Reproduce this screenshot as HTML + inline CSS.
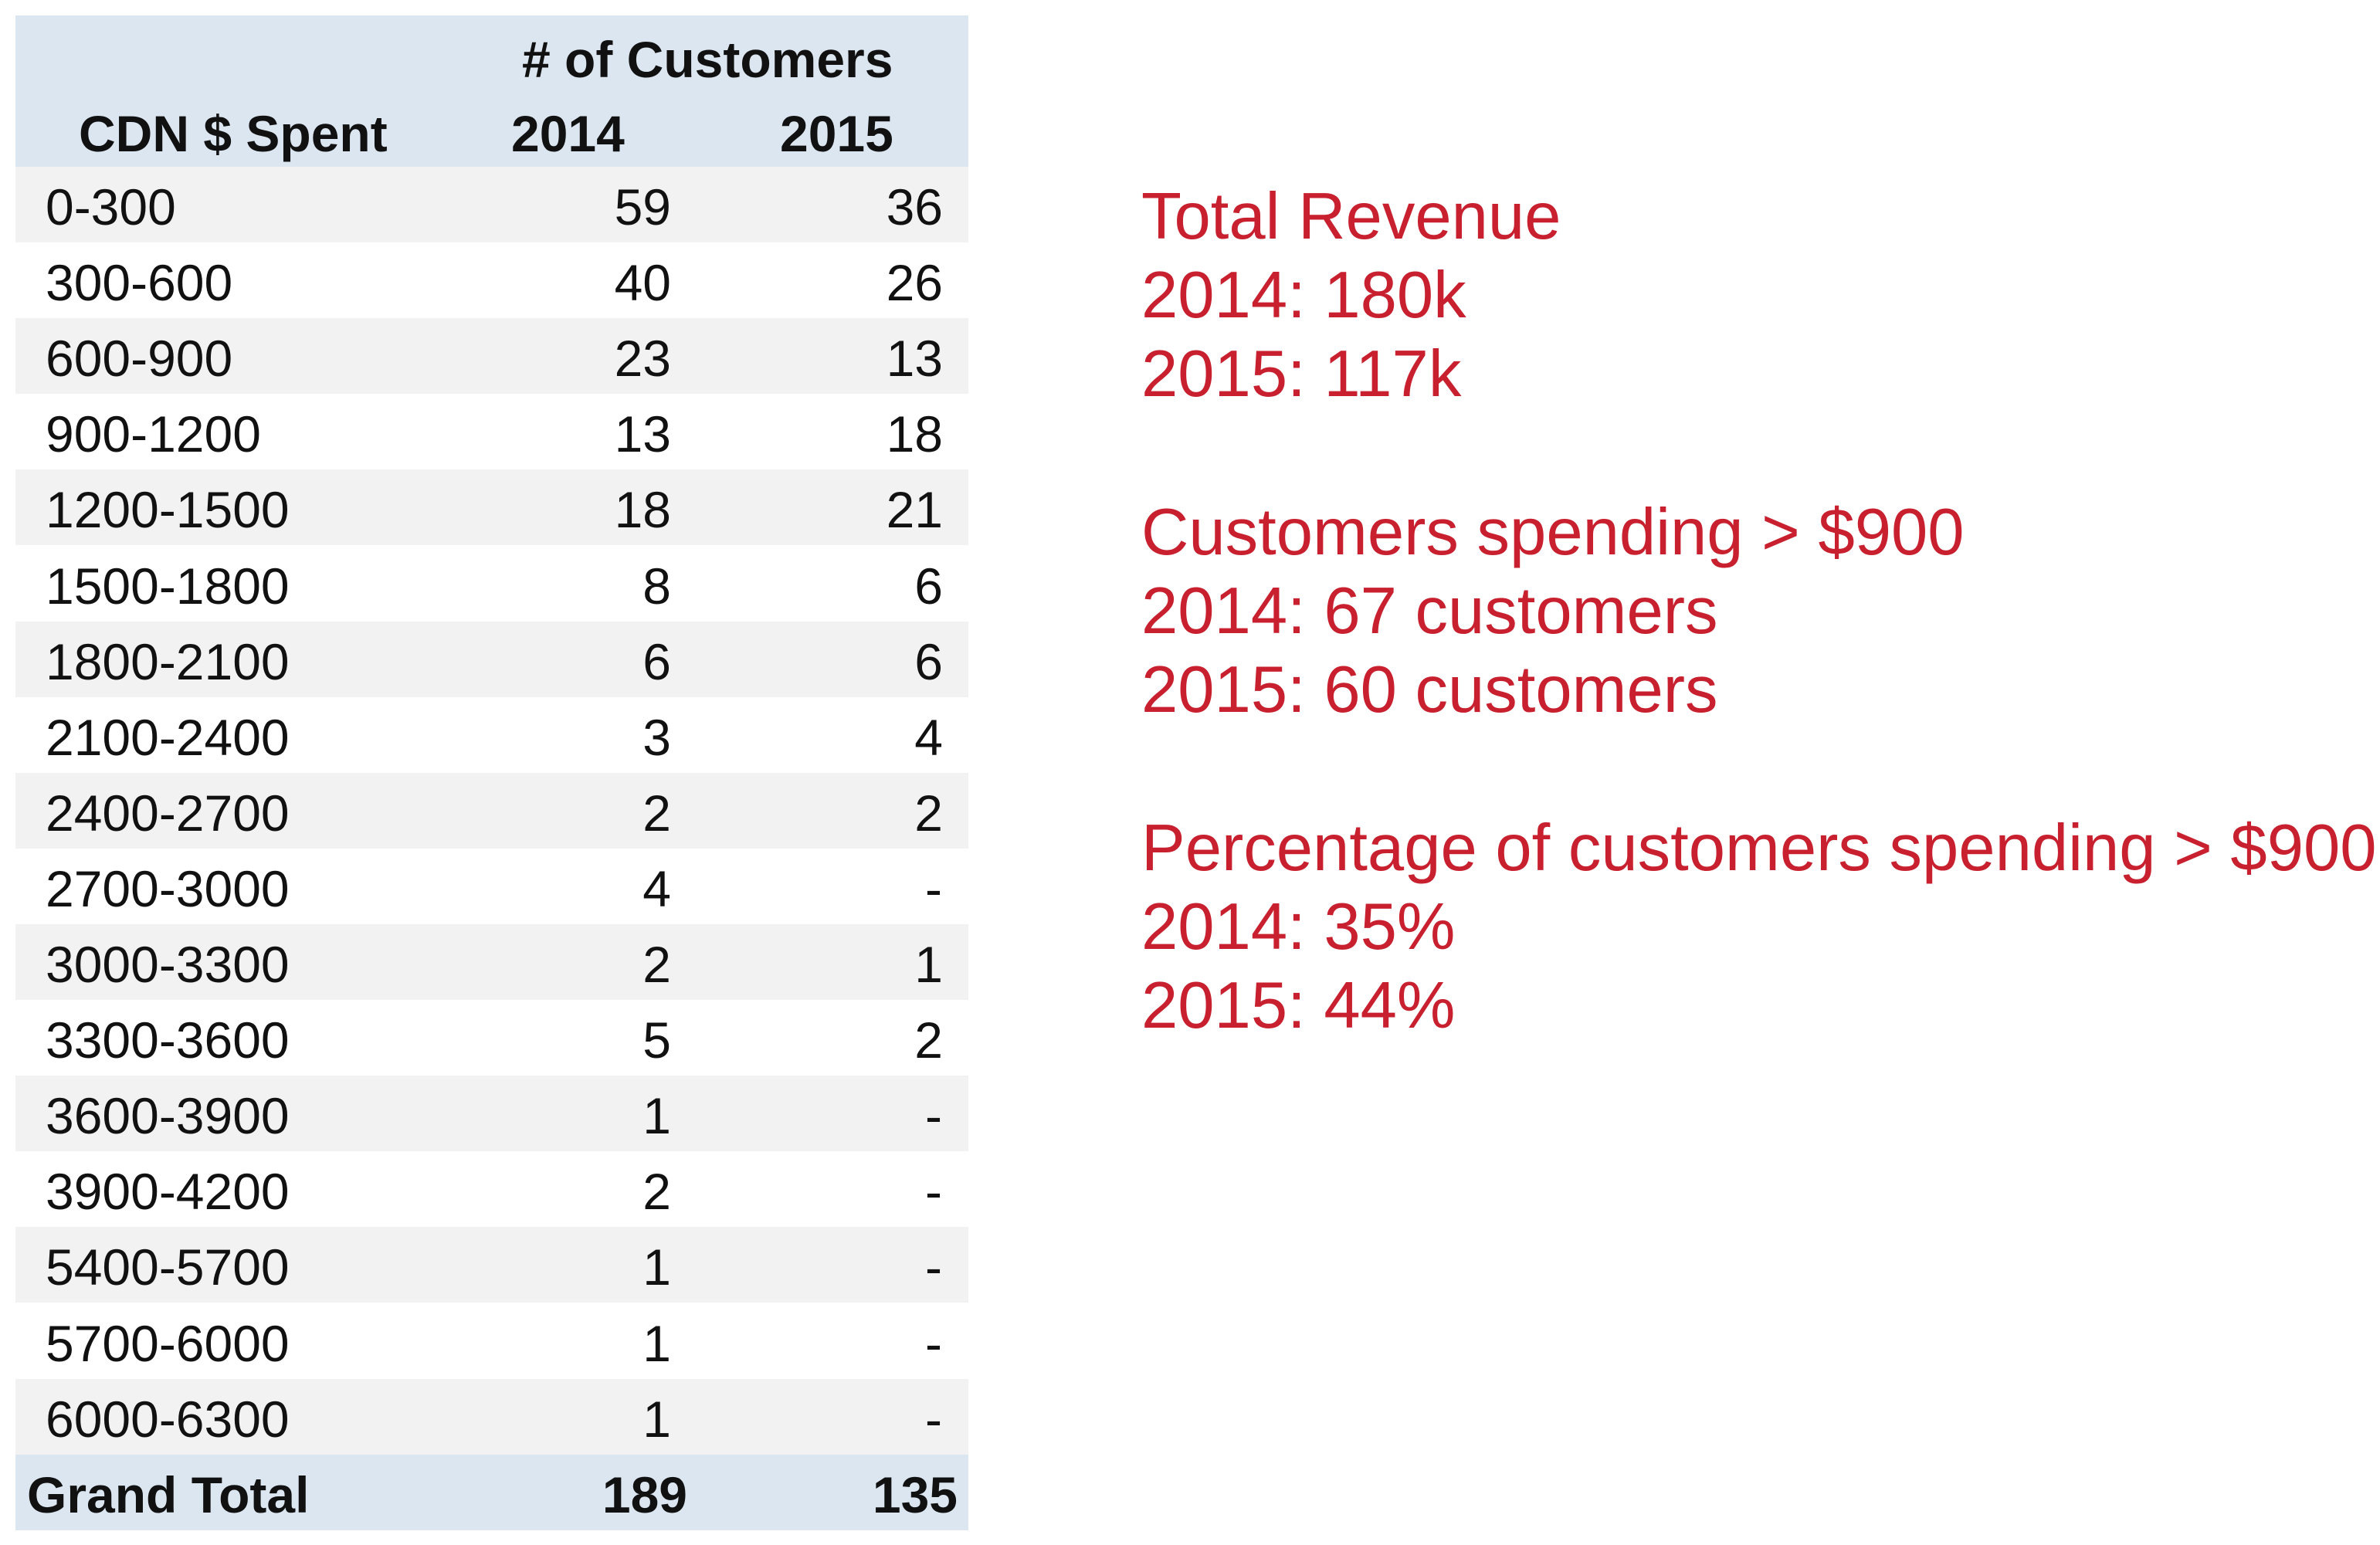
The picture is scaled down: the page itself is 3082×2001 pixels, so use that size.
<!DOCTYPE html>
<html><head><meta charset="utf-8">
<style>
html,body{margin:0;padding:0;background:#fff;}
body{width:3082px;height:2001px;position:relative;overflow:hidden;font-family:"Liberation Sans",sans-serif;}
.t{position:absolute;left:20px;width:1234px;}
.row{position:absolute;left:0;width:1234px;height:98px;}
.cell{position:absolute;top:3px;height:98px;line-height:98px;font-size:66px;color:#111;white-space:nowrap;}
.hdr{background:#dce6f1;}
.b{font-weight:bold;}
#notes{position:absolute;left:1478px;top:230px;font-size:85px;line-height:102.2px;color:#c8202e;white-space:pre;}
</style></head>
<body>
<div class="t" id="table" style="top:20px;height:1961px;">
  <div class="row hdr" style="top:0;height:196px;">
    <div class="cell b" style="left:656px;top:8px;">#&nbsp;of Customers</div>
    <div class="cell b" style="left:82px;top:104px;">CDN $ Spent</div>
    <div class="cell b" style="left:642px;top:104px;">2014</div>
    <div class="cell b" style="left:990px;top:104px;">2015</div>
  </div>
</div>
<div id="notes">Total Revenue
2014: 180k
2015: 117k

Customers spending &gt; $900
2014: 67 customers
2015: 60 customers

Percentage of customers spending &gt; $900
2014: 35%
2015: 44%</div>
<script>
const ranges = ["0-300","300-600","600-900","900-1200","1200-1500","1500-1800","1800-2100","2100-2400","2400-2700","2700-3000","3000-3300","3300-3600","3600-3900","3900-4200","5400-5700","5700-6000","6000-6300"];
const counts2014 = [59,40,23,13,18,8,6,3,2,4,2,5,1,2,1,1,1];
const counts2015 = [36,26,13,18,21,6,6,4,2,0,1,2,0,0,0,0,0];
const totalLabel = "Grand Total";

const table = document.getElementById('table');
const rowH = 98.1, top0 = 196;
function fmt(v){ return v === 0 ? "-" : String(v); }
function mk(parent, cls, style, text){
  const d = document.createElement('div');
  d.className = cls; d.setAttribute('style', style); d.textContent = text;
  parent.appendChild(d); return d;
}
ranges.forEach((r,i)=>{
  const row = document.createElement('div');
  row.className = 'row';
  row.setAttribute('style', 'top:' + (top0 + rowH*i) + 'px;background:' + (i%2===0 ? '#f2f2f2' : '#ffffff') + ';');
  
  
  table.appendChild(row);
  const a = mk(row, 'cell', 'left:39px;', r);
  
  
  const v1 = counts2014[i], v2 = counts2015[i];
  const b = mk(row, 'cell', v1===0 ? 'left:1178px;width:24px;text-align:center;' : 'right:385px;', fmt(v1));
  
  
  const c = mk(row, 'cell', v2===0 ? 'left:1178px;width:22px;text-align:center;' : 'right:33px;', fmt(v2));
  
  
});
const tot = document.createElement('div');
tot.className = 'row hdr';
tot.setAttribute('style', 'top:' + (top0 + rowH*ranges.length) + 'px;');


table.appendChild(tot);
const s1 = counts2014.reduce((a,b)=>a+b,0), s2 = counts2015.reduce((a,b)=>a+b,0);
const t0 = mk(tot, 'cell b', 'left:15px;', totalLabel);


const t1 = mk(tot, 'cell b', 'right:364px;', String(s1));


const t2 = mk(tot, 'cell b', 'right:14px;', String(s2));


</script>
</body></html>
